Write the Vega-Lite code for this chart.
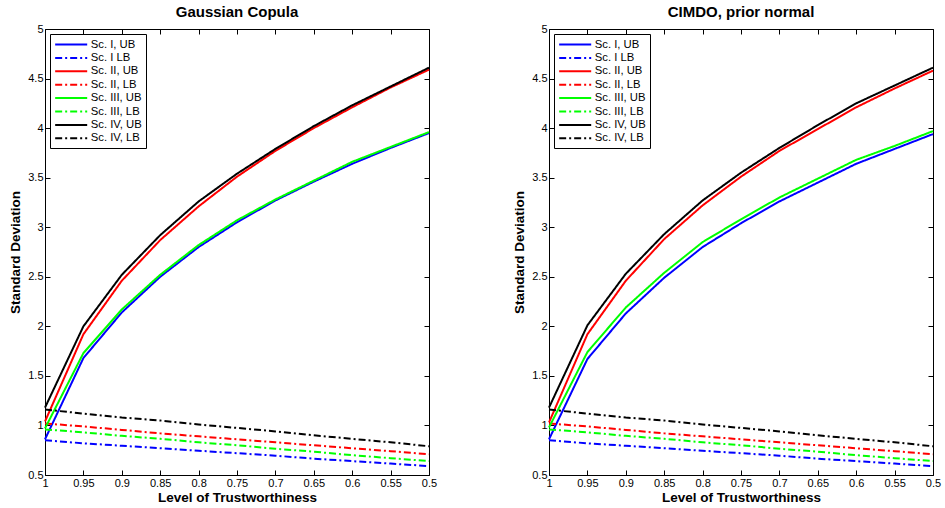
{
  "$schema": "https://vega.github.io/schema/vega-lite/v6.json",
  "background": "white",
  "padding": {"left": 8, "top": 4, "right": 0, "bottom": 0},
  "config": {
    "font": "Liberation Sans",
    "view": {"stroke": "black", "strokeWidth": 1},
    "axis": {"domain": false, "grid": false, "tickColor": "black", "tickSize": -5, "labelPadding": 7, "labelFontSize": 11, "labelColor": "black", "labelFont": "Liberation Sans", "labelFlush": false, "titleFontSize": 13.5, "titleFontWeight": "bold", "titleColor": "black", "titleFont": "Liberation Sans"},
    "axisX": {"titlePadding": 2},
    "axisY": {"titlePadding": 5},
    "title": {"fontSize": 15, "fontWeight": "bold", "offset": 3, "color": "black", "font": "Liberation Sans"}
  },
  "datasets": {
    "d": [
      {"p":"G","s":"Sc. I, UB","x":1,"y":0.86},{"p":"G","s":"Sc. I, UB","x":0.95,"y":1.68},{"p":"G","s":"Sc. I, UB","x":0.9,"y":2.14},{"p":"G","s":"Sc. I, UB","x":0.85,"y":2.5},{"p":"G","s":"Sc. I, UB","x":0.8,"y":2.8},{"p":"G","s":"Sc. I, UB","x":0.75,"y":3.05},{"p":"G","s":"Sc. I, UB","x":0.7,"y":3.27},{"p":"G","s":"Sc. I, UB","x":0.65,"y":3.46},{"p":"G","s":"Sc. I, UB","x":0.6,"y":3.64},{"p":"G","s":"Sc. I, UB","x":0.55,"y":3.8},{"p":"G","s":"Sc. I, UB","x":0.5,"y":3.95},
      {"p":"G","s":"Sc. I LB","x":1,"y":0.85},{"p":"G","s":"Sc. I LB","x":0.95,"y":0.82},{"p":"G","s":"Sc. I LB","x":0.9,"y":0.795},{"p":"G","s":"Sc. I LB","x":0.85,"y":0.77},{"p":"G","s":"Sc. I LB","x":0.8,"y":0.745},{"p":"G","s":"Sc. I LB","x":0.75,"y":0.72},{"p":"G","s":"Sc. I LB","x":0.7,"y":0.695},{"p":"G","s":"Sc. I LB","x":0.65,"y":0.665},{"p":"G","s":"Sc. I LB","x":0.6,"y":0.64},{"p":"G","s":"Sc. I LB","x":0.55,"y":0.615},{"p":"G","s":"Sc. I LB","x":0.5,"y":0.59},
      {"p":"G","s":"Sc. II, UB","x":1,"y":1.04},{"p":"G","s":"Sc. II, UB","x":0.95,"y":1.92},{"p":"G","s":"Sc. II, UB","x":0.9,"y":2.46},{"p":"G","s":"Sc. II, UB","x":0.85,"y":2.87},{"p":"G","s":"Sc. II, UB","x":0.8,"y":3.21},{"p":"G","s":"Sc. II, UB","x":0.75,"y":3.51},{"p":"G","s":"Sc. II, UB","x":0.7,"y":3.77},{"p":"G","s":"Sc. II, UB","x":0.65,"y":4.0},{"p":"G","s":"Sc. II, UB","x":0.6,"y":4.21},{"p":"G","s":"Sc. II, UB","x":0.55,"y":4.41},{"p":"G","s":"Sc. II, UB","x":0.5,"y":4.59},
      {"p":"G","s":"Sc. II, LB","x":1,"y":1.02},{"p":"G","s":"Sc. II, LB","x":0.95,"y":0.99},{"p":"G","s":"Sc. II, LB","x":0.9,"y":0.955},{"p":"G","s":"Sc. II, LB","x":0.85,"y":0.92},{"p":"G","s":"Sc. II, LB","x":0.8,"y":0.89},{"p":"G","s":"Sc. II, LB","x":0.75,"y":0.86},{"p":"G","s":"Sc. II, LB","x":0.7,"y":0.83},{"p":"G","s":"Sc. II, LB","x":0.65,"y":0.8},{"p":"G","s":"Sc. II, LB","x":0.6,"y":0.77},{"p":"G","s":"Sc. II, LB","x":0.55,"y":0.74},{"p":"G","s":"Sc. II, LB","x":0.5,"y":0.71},
      {"p":"G","s":"Sc. III, UB","x":1,"y":0.97},{"p":"G","s":"Sc. III, UB","x":0.95,"y":1.73},{"p":"G","s":"Sc. III, UB","x":0.9,"y":2.17},{"p":"G","s":"Sc. III, UB","x":0.85,"y":2.52},{"p":"G","s":"Sc. III, UB","x":0.8,"y":2.82},{"p":"G","s":"Sc. III, UB","x":0.75,"y":3.07},{"p":"G","s":"Sc. III, UB","x":0.7,"y":3.28},{"p":"G","s":"Sc. III, UB","x":0.65,"y":3.47},{"p":"G","s":"Sc. III, UB","x":0.6,"y":3.66},{"p":"G","s":"Sc. III, UB","x":0.55,"y":3.81},{"p":"G","s":"Sc. III, UB","x":0.5,"y":3.96},
      {"p":"G","s":"Sc. III, LB","x":1,"y":0.96},{"p":"G","s":"Sc. III, LB","x":0.95,"y":0.93},{"p":"G","s":"Sc. III, LB","x":0.9,"y":0.895},{"p":"G","s":"Sc. III, LB","x":0.85,"y":0.865},{"p":"G","s":"Sc. III, LB","x":0.8,"y":0.83},{"p":"G","s":"Sc. III, LB","x":0.75,"y":0.8},{"p":"G","s":"Sc. III, LB","x":0.7,"y":0.765},{"p":"G","s":"Sc. III, LB","x":0.65,"y":0.735},{"p":"G","s":"Sc. III, LB","x":0.6,"y":0.7},{"p":"G","s":"Sc. III, LB","x":0.55,"y":0.67},{"p":"G","s":"Sc. III, LB","x":0.5,"y":0.64},
      {"p":"G","s":"Sc. IV, UB","x":1,"y":1.18},{"p":"G","s":"Sc. IV, UB","x":0.95,"y":2.0},{"p":"G","s":"Sc. IV, UB","x":0.9,"y":2.52},{"p":"G","s":"Sc. IV, UB","x":0.85,"y":2.92},{"p":"G","s":"Sc. IV, UB","x":0.8,"y":3.26},{"p":"G","s":"Sc. IV, UB","x":0.75,"y":3.54},{"p":"G","s":"Sc. IV, UB","x":0.7,"y":3.79},{"p":"G","s":"Sc. IV, UB","x":0.65,"y":4.02},{"p":"G","s":"Sc. IV, UB","x":0.6,"y":4.23},{"p":"G","s":"Sc. IV, UB","x":0.55,"y":4.42},{"p":"G","s":"Sc. IV, UB","x":0.5,"y":4.61},
      {"p":"G","s":"Sc. IV, LB","x":1,"y":1.16},{"p":"G","s":"Sc. IV, LB","x":0.95,"y":1.12},{"p":"G","s":"Sc. IV, LB","x":0.9,"y":1.08},{"p":"G","s":"Sc. IV, LB","x":0.85,"y":1.05},{"p":"G","s":"Sc. IV, LB","x":0.8,"y":1.01},{"p":"G","s":"Sc. IV, LB","x":0.75,"y":0.975},{"p":"G","s":"Sc. IV, LB","x":0.7,"y":0.94},{"p":"G","s":"Sc. IV, LB","x":0.65,"y":0.9},{"p":"G","s":"Sc. IV, LB","x":0.6,"y":0.865},{"p":"G","s":"Sc. IV, LB","x":0.55,"y":0.83},{"p":"G","s":"Sc. IV, LB","x":0.5,"y":0.79},

      {"p":"C","s":"Sc. I, UB","x":1,"y":0.86},{"p":"C","s":"Sc. I, UB","x":0.95,"y":1.67},{"p":"C","s":"Sc. I, UB","x":0.9,"y":2.13},{"p":"C","s":"Sc. I, UB","x":0.85,"y":2.49},{"p":"C","s":"Sc. I, UB","x":0.8,"y":2.8},{"p":"C","s":"Sc. I, UB","x":0.75,"y":3.04},{"p":"C","s":"Sc. I, UB","x":0.7,"y":3.26},{"p":"C","s":"Sc. I, UB","x":0.65,"y":3.45},{"p":"C","s":"Sc. I, UB","x":0.6,"y":3.64},{"p":"C","s":"Sc. I, UB","x":0.55,"y":3.79},{"p":"C","s":"Sc. I, UB","x":0.5,"y":3.94},
      {"p":"C","s":"Sc. I LB","x":1,"y":0.85},{"p":"C","s":"Sc. I LB","x":0.95,"y":0.82},{"p":"C","s":"Sc. I LB","x":0.9,"y":0.795},{"p":"C","s":"Sc. I LB","x":0.85,"y":0.77},{"p":"C","s":"Sc. I LB","x":0.8,"y":0.745},{"p":"C","s":"Sc. I LB","x":0.75,"y":0.72},{"p":"C","s":"Sc. I LB","x":0.7,"y":0.695},{"p":"C","s":"Sc. I LB","x":0.65,"y":0.665},{"p":"C","s":"Sc. I LB","x":0.6,"y":0.64},{"p":"C","s":"Sc. I LB","x":0.55,"y":0.615},{"p":"C","s":"Sc. I LB","x":0.5,"y":0.59},
      {"p":"C","s":"Sc. II, UB","x":1,"y":1.03},{"p":"C","s":"Sc. II, UB","x":0.95,"y":1.92},{"p":"C","s":"Sc. II, UB","x":0.9,"y":2.46},{"p":"C","s":"Sc. II, UB","x":0.85,"y":2.88},{"p":"C","s":"Sc. II, UB","x":0.8,"y":3.22},{"p":"C","s":"Sc. II, UB","x":0.75,"y":3.51},{"p":"C","s":"Sc. II, UB","x":0.7,"y":3.77},{"p":"C","s":"Sc. II, UB","x":0.65,"y":3.99},{"p":"C","s":"Sc. II, UB","x":0.6,"y":4.21},{"p":"C","s":"Sc. II, UB","x":0.55,"y":4.4},{"p":"C","s":"Sc. II, UB","x":0.5,"y":4.58},
      {"p":"C","s":"Sc. II, LB","x":1,"y":1.02},{"p":"C","s":"Sc. II, LB","x":0.95,"y":0.99},{"p":"C","s":"Sc. II, LB","x":0.9,"y":0.955},{"p":"C","s":"Sc. II, LB","x":0.85,"y":0.92},{"p":"C","s":"Sc. II, LB","x":0.8,"y":0.89},{"p":"C","s":"Sc. II, LB","x":0.75,"y":0.86},{"p":"C","s":"Sc. II, LB","x":0.7,"y":0.83},{"p":"C","s":"Sc. II, LB","x":0.65,"y":0.8},{"p":"C","s":"Sc. II, LB","x":0.6,"y":0.77},{"p":"C","s":"Sc. II, LB","x":0.55,"y":0.74},{"p":"C","s":"Sc. II, LB","x":0.5,"y":0.71},
      {"p":"C","s":"Sc. III, UB","x":1,"y":0.98},{"p":"C","s":"Sc. III, UB","x":0.95,"y":1.74},{"p":"C","s":"Sc. III, UB","x":0.9,"y":2.19},{"p":"C","s":"Sc. III, UB","x":0.85,"y":2.54},{"p":"C","s":"Sc. III, UB","x":0.8,"y":2.85},{"p":"C","s":"Sc. III, UB","x":0.75,"y":3.08},{"p":"C","s":"Sc. III, UB","x":0.7,"y":3.3},{"p":"C","s":"Sc. III, UB","x":0.65,"y":3.49},{"p":"C","s":"Sc. III, UB","x":0.6,"y":3.68},{"p":"C","s":"Sc. III, UB","x":0.55,"y":3.82},{"p":"C","s":"Sc. III, UB","x":0.5,"y":3.97},
      {"p":"C","s":"Sc. III, LB","x":1,"y":0.96},{"p":"C","s":"Sc. III, LB","x":0.95,"y":0.93},{"p":"C","s":"Sc. III, LB","x":0.9,"y":0.895},{"p":"C","s":"Sc. III, LB","x":0.85,"y":0.865},{"p":"C","s":"Sc. III, LB","x":0.8,"y":0.83},{"p":"C","s":"Sc. III, LB","x":0.75,"y":0.8},{"p":"C","s":"Sc. III, LB","x":0.7,"y":0.765},{"p":"C","s":"Sc. III, LB","x":0.65,"y":0.735},{"p":"C","s":"Sc. III, LB","x":0.6,"y":0.7},{"p":"C","s":"Sc. III, LB","x":0.55,"y":0.67},{"p":"C","s":"Sc. III, LB","x":0.5,"y":0.64},
      {"p":"C","s":"Sc. IV, UB","x":1,"y":1.18},{"p":"C","s":"Sc. IV, UB","x":0.95,"y":2.01},{"p":"C","s":"Sc. IV, UB","x":0.9,"y":2.53},{"p":"C","s":"Sc. IV, UB","x":0.85,"y":2.93},{"p":"C","s":"Sc. IV, UB","x":0.8,"y":3.27},{"p":"C","s":"Sc. IV, UB","x":0.75,"y":3.55},{"p":"C","s":"Sc. IV, UB","x":0.7,"y":3.8},{"p":"C","s":"Sc. IV, UB","x":0.65,"y":4.03},{"p":"C","s":"Sc. IV, UB","x":0.6,"y":4.25},{"p":"C","s":"Sc. IV, UB","x":0.55,"y":4.43},{"p":"C","s":"Sc. IV, UB","x":0.5,"y":4.61},
      {"p":"C","s":"Sc. IV, LB","x":1,"y":1.16},{"p":"C","s":"Sc. IV, LB","x":0.95,"y":1.12},{"p":"C","s":"Sc. IV, LB","x":0.9,"y":1.08},{"p":"C","s":"Sc. IV, LB","x":0.85,"y":1.05},{"p":"C","s":"Sc. IV, LB","x":0.8,"y":1.01},{"p":"C","s":"Sc. IV, LB","x":0.75,"y":0.975},{"p":"C","s":"Sc. IV, LB","x":0.7,"y":0.94},{"p":"C","s":"Sc. IV, LB","x":0.65,"y":0.9},{"p":"C","s":"Sc. IV, LB","x":0.6,"y":0.865},{"p":"C","s":"Sc. IV, LB","x":0.55,"y":0.83},{"p":"C","s":"Sc. IV, LB","x":0.5,"y":0.79}
    ]
  },
  "spacing": 74,
  "resolve": {"scale": {"color": "independent", "strokeDash": "independent"}, "legend": {"color": "independent", "strokeDash": "independent"}},
  "hconcat": [
    {
      "title": "Gaussian Copula",
      "width": 384, "height": 446,
      "data": {"name": "d"},
      "transform": [{"filter": "datum.p == 'G'"}],
      "layer": [
        {
          "mark": {"type": "line", "strokeWidth": 2},
          "encoding": {
            "x": {"field": "x", "type": "quantitative", "scale": {"domain": [0.5, 1], "reverse": true, "nice": false, "zero": false}, "axis": {"orient": "bottom", "values": [1, 0.95, 0.9, 0.85, 0.8, 0.75, 0.7, 0.65, 0.6, 0.55, 0.5], "format": ".2~f", "title": "Level of Trustworthiness"}},
            "y": {"field": "y", "type": "quantitative", "scale": {"domain": [0.5, 5], "nice": false, "zero": false}, "axis": {"orient": "left", "values": [0.5, 1, 1.5, 2, 2.5, 3, 3.5, 4, 4.5, 5], "format": ".1~f", "title": "Standard Deviation"}},
            "color": {"field": "s", "type": "nominal", "scale": {"domain": ["Sc. I, UB", "Sc. I LB", "Sc. II, UB", "Sc. II, LB", "Sc. III, UB", "Sc. III, LB", "Sc. IV, UB", "Sc. IV, LB"], "range": ["#0000ff", "#0000ff", "#ff0000", "#ff0000", "#00ff00", "#00ff00", "#000000", "#000000"]}, "legend": {"title": null, "orient": "top-left", "offset": 5, "padding": 4, "strokeColor": "black", "fillColor": "white", "symbolType": "M-1,0H5", "symbolSize": 114, "symbolStrokeWidth": 2, "labelFontSize": 11.3, "labelOffset": 23.7, "rowPadding": 1.4, "labelColor": "black", "labelFont": "Liberation Sans", "cornerRadius": 0}},
            "strokeDash": {"field": "s", "type": "nominal", "scale": {"domain": ["Sc. I, UB", "Sc. I LB", "Sc. II, UB", "Sc. II, LB", "Sc. III, UB", "Sc. III, LB", "Sc. IV, UB", "Sc. IV, LB"], "range": [[1, 0], [7, 3, 2, 3], [1, 0], [7, 3, 2, 3], [1, 0], [7, 3, 2, 3], [1, 0], [7, 3, 2, 3]]}, "legend": {"title": null, "orient": "top-left", "offset": 5, "padding": 4, "strokeColor": "black", "fillColor": "white", "symbolType": "M-1,0H5", "symbolSize": 114, "symbolStrokeWidth": 2, "labelFontSize": 11.3, "labelOffset": 23.7, "rowPadding": 1.4, "labelColor": "black", "labelFont": "Liberation Sans", "cornerRadius": 0}}
          }
        },
        {
          "mark": {"type": "line", "strokeOpacity": 0},
          "encoding": {
            "x": {"field": "x", "type": "quantitative", "axis": {"orient": "top", "values": [1, 0.95, 0.9, 0.85, 0.8, 0.75, 0.7, 0.65, 0.6, 0.55, 0.5], "labels": false, "title": null}},
            "y": {"field": "y", "type": "quantitative", "axis": {"orient": "right", "values": [0.5, 1, 1.5, 2, 2.5, 3, 3.5, 4, 4.5, 5], "labels": false, "title": null}}
          }
        }
      ],
      "resolve": {"axis": {"x": "independent", "y": "independent"}}
    },
    {
      "title": "CIMDO, prior normal",
      "width": 384, "height": 446,
      "data": {"name": "d"},
      "transform": [{"filter": "datum.p == 'C'"}],
      "layer": [
        {
          "mark": {"type": "line", "strokeWidth": 2},
          "encoding": {
            "x": {"field": "x", "type": "quantitative", "scale": {"domain": [0.5, 1], "reverse": true, "nice": false, "zero": false}, "axis": {"orient": "bottom", "values": [1, 0.95, 0.9, 0.85, 0.8, 0.75, 0.7, 0.65, 0.6, 0.55, 0.5], "format": ".2~f", "title": "Level of Trustworthiness"}},
            "y": {"field": "y", "type": "quantitative", "scale": {"domain": [0.5, 5], "nice": false, "zero": false}, "axis": {"orient": "left", "values": [0.5, 1, 1.5, 2, 2.5, 3, 3.5, 4, 4.5, 5], "format": ".1~f", "title": "Standard Deviation"}},
            "color": {"field": "s", "type": "nominal", "scale": {"domain": ["Sc. I, UB", "Sc. I LB", "Sc. II, UB", "Sc. II, LB", "Sc. III, UB", "Sc. III, LB", "Sc. IV, UB", "Sc. IV, LB"], "range": ["#0000ff", "#0000ff", "#ff0000", "#ff0000", "#00ff00", "#00ff00", "#000000", "#000000"]}, "legend": {"title": null, "orient": "top-left", "offset": 5, "padding": 4, "strokeColor": "black", "fillColor": "white", "symbolType": "M-1,0H5", "symbolSize": 114, "symbolStrokeWidth": 2, "labelFontSize": 11.3, "labelOffset": 23.7, "rowPadding": 1.4, "labelColor": "black", "labelFont": "Liberation Sans", "cornerRadius": 0}},
            "strokeDash": {"field": "s", "type": "nominal", "scale": {"domain": ["Sc. I, UB", "Sc. I LB", "Sc. II, UB", "Sc. II, LB", "Sc. III, UB", "Sc. III, LB", "Sc. IV, UB", "Sc. IV, LB"], "range": [[1, 0], [7, 3, 2, 3], [1, 0], [7, 3, 2, 3], [1, 0], [7, 3, 2, 3], [1, 0], [7, 3, 2, 3]]}, "legend": {"title": null, "orient": "top-left", "offset": 5, "padding": 4, "strokeColor": "black", "fillColor": "white", "symbolType": "M-1,0H5", "symbolSize": 114, "symbolStrokeWidth": 2, "labelFontSize": 11.3, "labelOffset": 23.7, "rowPadding": 1.4, "labelColor": "black", "labelFont": "Liberation Sans", "cornerRadius": 0}}
          }
        },
        {
          "mark": {"type": "line", "strokeOpacity": 0},
          "encoding": {
            "x": {"field": "x", "type": "quantitative", "axis": {"orient": "top", "values": [1, 0.95, 0.9, 0.85, 0.8, 0.75, 0.7, 0.65, 0.6, 0.55, 0.5], "labels": false, "title": null}},
            "y": {"field": "y", "type": "quantitative", "axis": {"orient": "right", "values": [0.5, 1, 1.5, 2, 2.5, 3, 3.5, 4, 4.5, 5], "labels": false, "title": null}}
          }
        }
      ],
      "resolve": {"axis": {"x": "independent", "y": "independent"}}
    }
  ]
}
